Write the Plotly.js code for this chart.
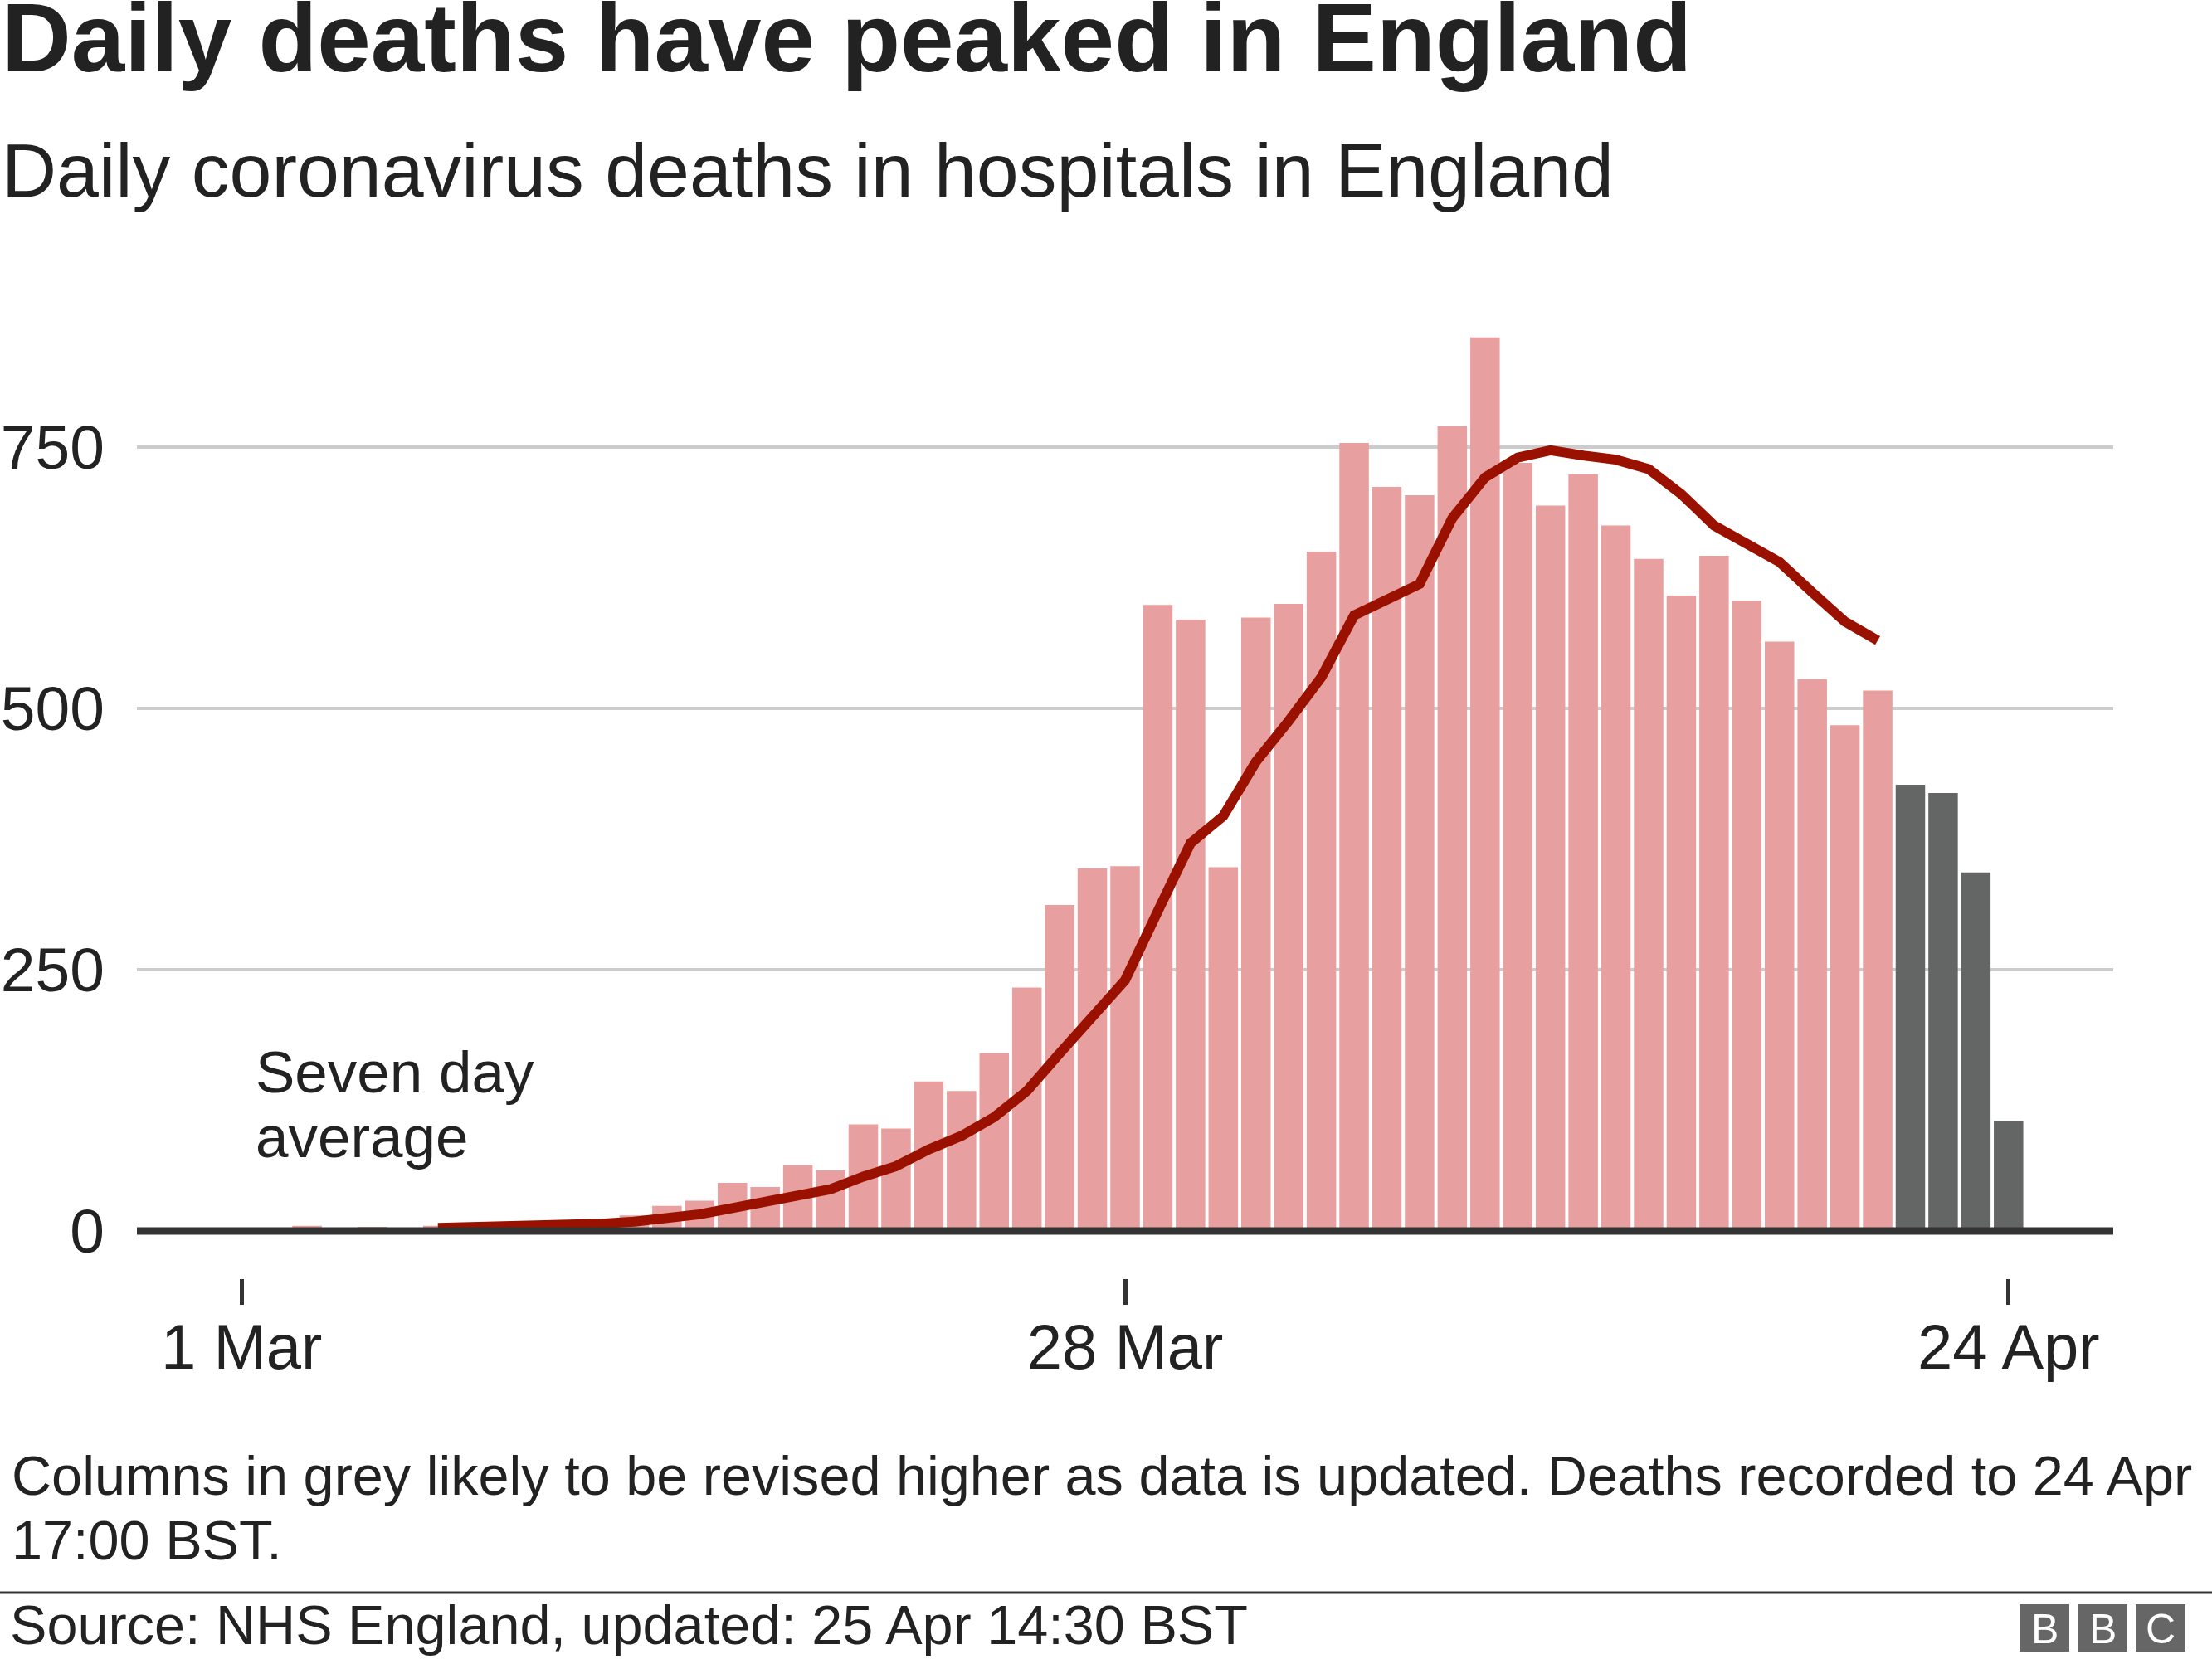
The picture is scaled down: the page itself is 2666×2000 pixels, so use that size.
<!DOCTYPE html>
<html>
<head>
<meta charset="utf-8">
<script src="https://cdn.plot.ly/plotly-3.0.1.min.js"></script>
<style>
  html, body { margin: 0; padding: 0; background: #ffffff; }
  #chart { width: 2666px; height: 2000px; }
</style>
</head>
<body>
<div id="chart"></div>
<script>
// ---- Data ----
const confirmedDates = [
  '2020-03-01','2020-03-02','2020-03-03','2020-03-04','2020-03-05','2020-03-06','2020-03-07',
  '2020-03-08','2020-03-09','2020-03-10','2020-03-11','2020-03-12','2020-03-13','2020-03-14',
  '2020-03-15','2020-03-16','2020-03-17','2020-03-18','2020-03-19','2020-03-20','2020-03-21',
  '2020-03-22','2020-03-23','2020-03-24','2020-03-25','2020-03-26','2020-03-27','2020-03-28',
  '2020-03-29','2020-03-30','2020-03-31','2020-04-01','2020-04-02','2020-04-03','2020-04-04',
  '2020-04-05','2020-04-06','2020-04-07','2020-04-08','2020-04-09','2020-04-10','2020-04-11',
  '2020-04-12','2020-04-13','2020-04-14','2020-04-15','2020-04-16','2020-04-17','2020-04-18',
  '2020-04-19','2020-04-20'
];
const confirmedDeaths = [
  0, 1, 5, 1, 4, 2, 5,
  4, 5, 7, 9, 9, 15, 24,
  29, 46, 42, 63, 58, 102, 98,
  143, 134, 170, 233, 312, 347, 349,
  599, 585, 348, 587, 600, 650, 754,
  712, 704, 770, 855, 735, 694, 724,
  675, 643, 608, 646, 603, 564, 528,
  484, 517
];
const provisionalDates = ['2020-04-21','2020-04-22','2020-04-23','2020-04-24'];
const provisionalDeaths = [427, 419, 343, 105];

const averageDates = [
  '2020-03-07','2020-03-08','2020-03-09','2020-03-10','2020-03-11','2020-03-12','2020-03-13',
  '2020-03-14','2020-03-15','2020-03-16','2020-03-17','2020-03-18','2020-03-19','2020-03-20',
  '2020-03-21','2020-03-22','2020-03-23','2020-03-24','2020-03-25','2020-03-26','2020-03-27',
  '2020-03-28','2020-03-29','2020-03-30','2020-03-31','2020-04-01','2020-04-02','2020-04-03',
  '2020-04-04','2020-04-05','2020-04-06','2020-04-07','2020-04-08','2020-04-09','2020-04-10',
  '2020-04-11','2020-04-12','2020-04-13','2020-04-14','2020-04-15','2020-04-16','2020-04-17',
  '2020-04-18','2020-04-19','2020-04-20'
];
const sevenDayAverage = [
  3, 3.5, 4, 4.5, 5.5, 7, 9,
  12, 16, 22, 28, 35, 40, 52,
  62, 78, 91, 109, 134, 170, 204,
  240, 306, 371, 397, 449, 488, 530,
  589, 604, 619, 682, 721, 740, 747,
  742, 738, 729, 705, 675, 658, 640,
  611, 583, 565
];

const xTickVals = ['2020-03-01','2020-03-28','2020-04-24'];
const xTickText = ['1 Mar','28 Mar','24 Apr'];
const yTickVals = [0, 250, 500, 750];
const yTickText = ['0','250','500','750'];

// ---- Layout geometry (pixels of the 2666x2000 page) ----
const W = 2666, H = 2000;
const L = 165, R = 2547, T = 380, B = 1541;
const px = X => (X - L) / (R - L);
const py = Y => (B - Y) / (B - T);
const FONT = '"Liberation Sans", Arial, Helvetica, sans-serif';
const TXT = '#222222';

function textAt(text, X, baselineY, size, opts) {
  opts = opts || {};
  const mid = baselineY - 0.3465 * size;
  return {
    text: text, xref: 'paper', yref: 'paper',
    x: px(X), y: py(mid),
    xanchor: opts.xanchor || 'left', yanchor: 'middle',
    showarrow: false, align: opts.xanchor || 'left',
    font: { family: FONT, size: size, color: opts.color || TXT, weight: opts.weight || 'normal' }
  };
}

const traces = [
  {
    type: 'bar', x: confirmedDates, y: confirmedDeaths,
    marker: { color: '#e79fa0', line: { width: 0 } },
    hoverinfo: 'skip'
  },
  {
    type: 'bar', x: provisionalDates, y: provisionalDeaths,
    marker: { color: '#646565', line: { width: 0 } },
    hoverinfo: 'skip'
  },
  {
    type: 'scatter', mode: 'lines', x: averageDates, y: sevenDayAverage,
    line: { color: '#9a1100', width: 12 },
    hoverinfo: 'skip'
  }
];

const layout = {
  width: W, height: H,
  margin: { l: L, r: W - R, t: T, b: H - B, pad: 0 },
  paper_bgcolor: '#ffffff', plot_bgcolor: '#ffffff',
  showlegend: false,
  barmode: 'overlay',
  bargap: 0.1,
  font: { family: FONT, color: TXT },
  xaxis: {
    type: 'date',
    range: ['2020-02-26 19:12', '2020-04-27 04:48'],
    tickmode: 'array', tickvals: xTickVals, ticktext: xTickText,
    ticks: 'outside', ticklen: 31, tickwidth: 5, tickcolor: '#333333',
    showgrid: false, zeroline: false, showline: false,
    tickfont: { family: FONT, size: 76, color: TXT },
    ticklabelstandoff: -14,
    fixedrange: true
  },
  yaxis: {
    range: [-45.2, 876.2],
    tickmode: 'array', tickvals: yTickVals, ticktext: yTickText,
    ticks: '', showline: false, zeroline: false,
    showgrid: true, gridcolor: '#cccccc', gridwidth: 3.5,
    tickfont: { family: FONT, size: 75, color: TXT },
    ticklabelstandoff: 38,
    fixedrange: true
  },
  shapes: [
    // baseline at zero, drawn above the bars
    { type: 'line', xref: 'paper', yref: 'y', x0: 0, x1: 1, y0: 0, y1: 0,
      line: { color: '#333333', width: 9 }, layer: 'above' },
    // rule above the source line
    { type: 'line', xref: 'paper', yref: 'paper', x0: px(0), x1: px(W), y0: py(1920), y1: py(1920),
      line: { color: '#333333', width: 3 }, layer: 'above' },
    // BBC blocks
    { type: 'rect', xref: 'paper', yref: 'paper', x0: px(2434), x1: px(2494), y0: py(1991), y1: py(1934),
      fillcolor: '#666666', line: { width: 0 } },
    { type: 'rect', xref: 'paper', yref: 'paper', x0: px(2504), x1: px(2564), y0: py(1991), y1: py(1934),
      fillcolor: '#666666', line: { width: 0 } },
    { type: 'rect', xref: 'paper', yref: 'paper', x0: px(2574), x1: px(2634), y0: py(1991), y1: py(1934),
      fillcolor: '#666666', line: { width: 0 } }
  ],
  annotations: [
    textAt('Daily deaths have peaked in England', 0, 86, 116, { weight: 'bold' }),
    textAt('Daily coronavirus deaths in hospitals in England', 0, 237, 91.5),
    textAt('Seven day', 306, 1317, 71),
    textAt('average', 306, 1395, 71),
    textAt('Columns in grey likely to be revised higher as data is updated. Deaths recorded to 24 Apr', 12, 1802, 66.6),
    textAt('17:00 BST.', 12, 1880, 66.6),
    textAt('Source: NHS England, updated: 25 Apr 14:30 BST', 10, 1982, 66.6),
    textAt('B', 2464, 1981, 50, { xanchor: 'center', color: '#ffffff' }),
    textAt('B', 2534, 1981, 50, { xanchor: 'center', color: '#ffffff' }),
    textAt('C', 2604, 1981, 50, { xanchor: 'center', color: '#ffffff' })
  ]
};

Plotly.newPlot('chart', traces, layout, { displayModeBar: false, staticPlot: true, responsive: false });
</script>
</body>
</html>
